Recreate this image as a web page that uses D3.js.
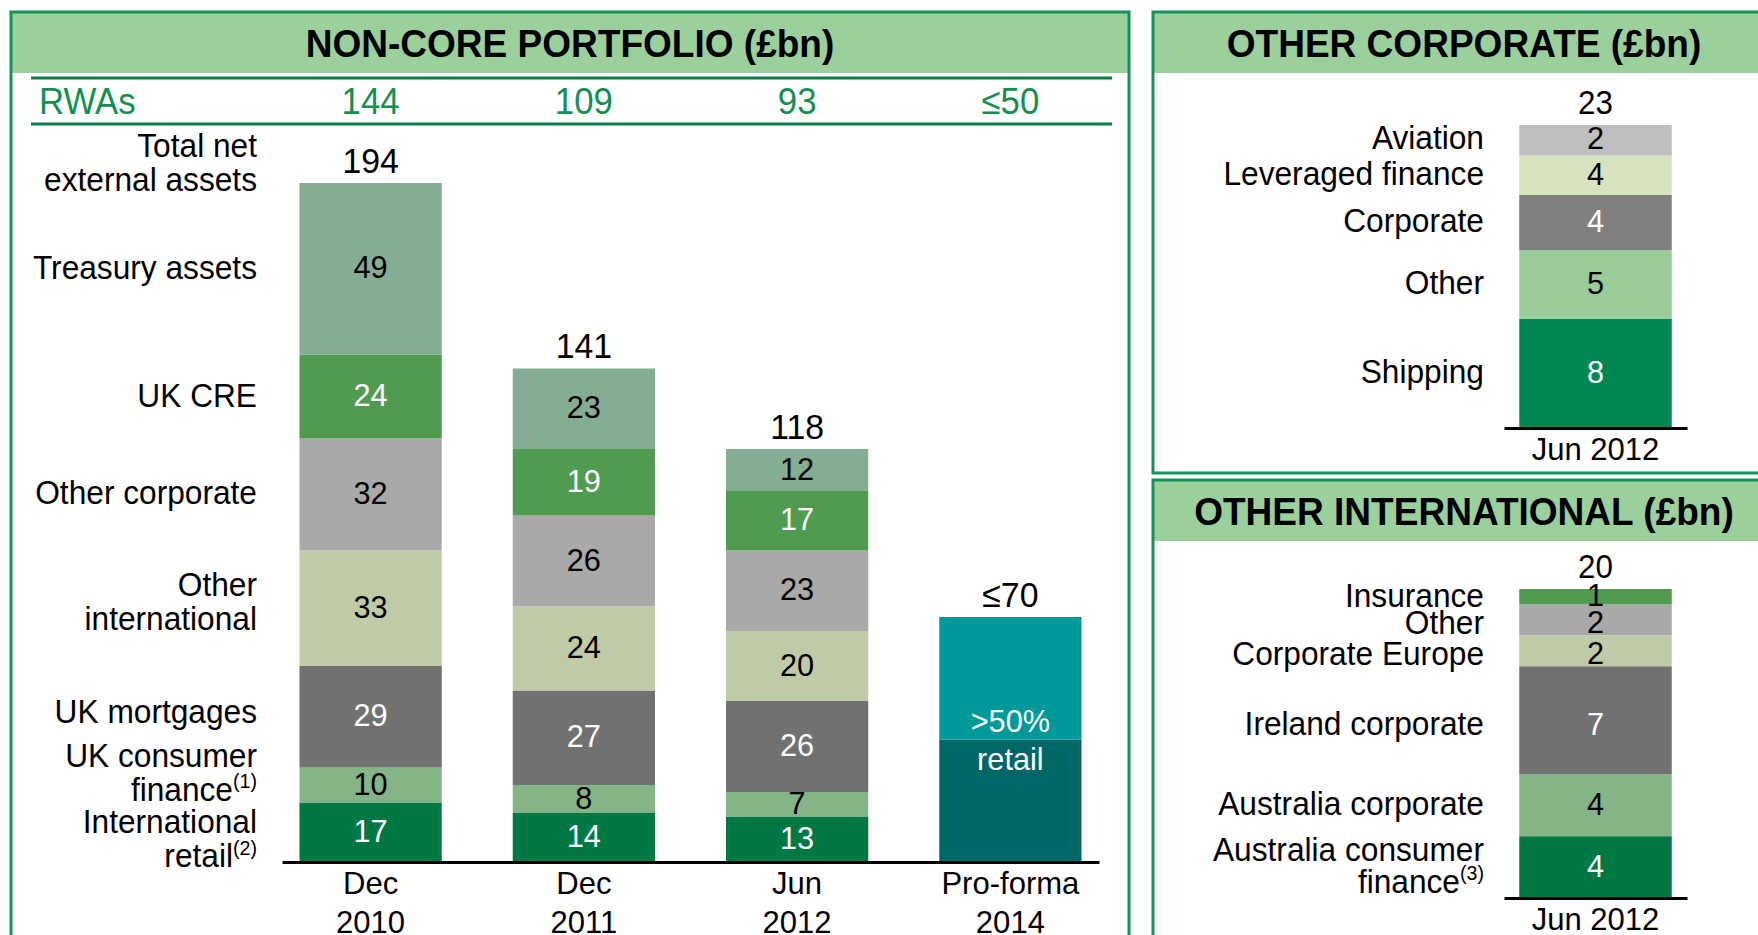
<!DOCTYPE html>
<html lang="en">
<head>
<meta charset="UTF-8">
<title>Non-core portfolio</title>
<script src="https://d3js.org/d3.v7.min.js"></script>
<style>
  body { margin: 0; background: #fff; }
  svg text { font-family: "Liberation Sans", Arial, sans-serif; }
</style>
</head>
<body>
<div id="chart"></div>
<script>
// ---- main chart: non-core portfolio (bottom segment first) ----
var categories = ["Dec 2010", "Dec 2011", "Jun 2012", "Pro-forma 2014"];
var categoryLines = [["Dec", "2010"], ["Dec", "2011"], ["Jun", "2012"], ["Pro-forma", "2014"]];
var rwas = ["144", "109", "93", "≤50"];
var totals = [194, 141, 118, 70];
var totalLabels = ["194", "141", "118", "≤70"];

var intlRetail  = [17, 14, 13];
var ukConsumer  = [10, 8, 7];
var ukMortgages = [29, 27, 26];
var otherIntl   = [33, 24, 20];
var otherCorp   = [32, 26, 23];
var ukCre       = [24, 19, 17];
var treasury    = [49, 23, 12];
var segmentNames = [["International", "retail^(2)"], ["UK consumer", "finance^(1)"], ["UK mortgages"],
                    ["Other", "international"], ["Other corporate"], ["UK CRE"], ["Treasury assets"]];

var proforma = [35, 35];            // retail share, rest
var proformaText = [">50%", "retail"];

// ---- other corporate, Jun 2012 ----
var corpNames  = ["Shipping", "Other", "Corporate", "Leveraged finance", "Aviation"];
var corpValues = [8.3, 5.2, 4.2, 3.0, 2.3];
var corpLabels = ["8", "5", "4", "4", "2"];
var corpTotal = 23;

// ---- other international, Jun 2012 ----
var intlNames  = [["Australia consumer", "finance^(3)"], ["Australia corporate"], ["Ireland corporate"],
                  ["Corporate Europe"], ["Other"], ["Insurance"]];
var intlValues = [4, 4, 7, 2, 2, 1];
var intlTotal = 20;

var W = 1758, H = 935;
var HEADER = "#9BCF9B", BORDER = "#17915A", RULE = "#0B7F46", RWA_TEXT = "#12904F";

var svg = d3.select("#chart").append("svg")
    .attr("width", W).attr("height", H).style("display", "block");
svg.append("rect").attr("width", W).attr("height", H).attr("fill", "#fff");

// the slide's type is a little condensed
function squeeze(x, sx) {
    return "translate(" + x + ",0) scale(" + sx + ",1) translate(" + (-x) + ",0)";
}

// writes a (possibly multi-line) label centred vertically on yc; "^" marks a superscript
function label(x, yc, lines, size, anchor, fill, lh, sx) {
    lh = lh || 34;
    var t = svg.append("text")
        .attr("text-anchor", anchor)
        .attr("font-size", size)
        .attr("fill", fill || "#000")
        .attr("transform", squeeze(x, sx || 1));
    lines.forEach(function (line, i) {
        var parts = line.split("^");
        var base = yc + (i - (lines.length - 1) / 2) * lh + size * 0.3;
        t.append("tspan").attr("x", x).attr("y", base).text(parts[0]);
        if (parts[1]) {
            t.append("tspan").attr("font-size", size * 0.62).attr("dy", -size * 0.38).text(parts[1]);
        }
    });
    return t;
}

function panel(x, y, w, h, title, titleX) {
    svg.append("rect").attr("x", x).attr("y", y).attr("width", w).attr("height", 61).attr("fill", HEADER);
    svg.append("rect").attr("x", x).attr("y", y).attr("width", w).attr("height", h)
        .attr("fill", "none").attr("stroke", BORDER).attr("stroke-width", 3);
    svg.append("text").attr("x", titleX).attr("y", y + 45)
        .attr("text-anchor", "middle").attr("font-size", 39).attr("font-weight", "bold")
        .attr("transform", squeeze(titleX, 0.95))
        .text(title);
}

panel(11, 12, 1118, 1000, "NON-CORE PORTFOLIO (£bn)", 570);
panel(1153, 12, 700, 461, "OTHER CORPORATE (£bn)", 1464);
panel(1153, 480, 700, 600, "OTHER INTERNATIONAL (£bn)", 1464);

// ---------------- main chart ----------------
var x = d3.scaleBand().domain(categories).range([282, 1099]).paddingInner(0.333).paddingOuter(0.082);
var y = d3.scaleLinear().domain([0, 194]).range([862, 183]);
var cx = function (cat) { return x(cat) + x.bandwidth() / 2; };

// RWAs row
[78, 124].forEach(function (ly) {
    svg.append("line").attr("x1", 31).attr("x2", 1112).attr("y1", ly).attr("y2", ly)
        .attr("stroke", RULE).attr("stroke-width", 3);
});
svg.append("text").attr("x", 39).attr("y", 114).attr("font-size", 37).attr("fill", RWA_TEXT)
    .attr("transform", squeeze(39, 0.94)).text("RWAs");
svg.selectAll(".rwa").data(rwas).enter().append("text")
    .attr("x", function (d, i) { return cx(categories[i]); })
    .attr("y", 114).attr("text-anchor", "middle").attr("font-size", 37).attr("fill", RWA_TEXT)
    .attr("transform", function (d, i) { return squeeze(cx(categories[i]), 0.94); })
    .text(function (d) { return d; });

var series = [intlRetail, ukConsumer, ukMortgages, otherIntl, otherCorp, ukCre, treasury];
var segFill = ["#007844", "#85B487", "#717171", "#BFCBA7", "#A9A9A9", "#519B51", "#84AD93"];
var segInk  = ["#fff", "#000", "#fff", "#000", "#000", "#fff", "#000"];
var nameNudge = [8, -11, -4, -5, 0, 1, 0];

categories.slice(0, 3).forEach(function (cat, j) {
    var base = 0;
    series.forEach(function (s, k) {
        var v = s[j];
        svg.append("rect")
            .attr("x", x(cat)).attr("width", x.bandwidth())
            .attr("y", y(base + v)).attr("height", y(base) - y(base + v))
            .attr("fill", segFill[k]);
        label(cx(cat), (y(base) + y(base + v)) / 2, [String(v)], 32, "middle", segInk[k], 34, 0.96);
        if (j === 0) {
            label(257, (y(base) + y(base + v)) / 2 + nameNudge[k], segmentNames[k], 33, "end", "#000", 34, 0.96);
        }
        base += v;
    });
});

// pro-forma bar
var pfCat = categories[3];
var pfFill = ["#006666", "#009999"];
var pfBase = 0;
proforma.forEach(function (v, k) {
    svg.append("rect")
        .attr("x", x(pfCat)).attr("width", x.bandwidth())
        .attr("y", y(pfBase + v)).attr("height", y(pfBase) - y(pfBase + v))
        .attr("fill", pfFill[k]);
    pfBase += v;
});
svg.append("text").attr("x", cx(pfCat)).attr("y", y(proforma[0]) - 7)
    .attr("text-anchor", "middle").attr("font-size", 32).attr("fill", "#fff")
    .attr("transform", squeeze(cx(pfCat), 0.96)).text(proformaText[0]);
svg.append("text").attr("x", cx(pfCat)).attr("y", y(proforma[0]) + 31)
    .attr("text-anchor", "middle").attr("font-size", 32).attr("fill", "#fff")
    .attr("transform", squeeze(cx(pfCat), 0.96)).text(proformaText[1]);

// totals
svg.selectAll(".total").data(totals).enter().append("text")
    .attr("x", function (d, i) { return cx(categories[i]); })
    .attr("y", function (d) { return y(d) - 10; })
    .attr("text-anchor", "middle").attr("font-size", 36)
    .attr("transform", function (d, i) { return squeeze(cx(categories[i]), 0.94); })
    .text(function (d, i) { return totalLabels[i]; });
label(257, y(totals[0]) - 19, ["Total net", "external assets"], 33, "end", "#000", 34, 0.96);

// axis
svg.append("g").attr("transform", "translate(0," + y(0) + ")")
    .call(d3.axisBottom(x).tickSize(0).tickSizeOuter(0).tickFormat(""))
    .call(function (g) { g.select(".domain").attr("stroke", "#000").attr("stroke-width", 3); });
categories.forEach(function (cat, i) {
    var t = svg.append("text").attr("text-anchor", "middle").attr("font-size", 32)
        .attr("transform", squeeze(cx(cat), 0.97));
    t.append("tspan").attr("x", cx(cat)).attr("y", y(0) + 32).text(categoryLines[i][0]);
    t.append("tspan").attr("x", cx(cat)).attr("y", y(0) + 71).text(categoryLines[i][1]);
});

// ---------------- side panels ----------------
function sideChart(values, texts, names, fills, inks, nudges, total, yTop, yBase) {
    var xs = d3.scaleBand().domain(["Jun 2012"]).range([1504, 1687]).paddingOuter(0.1);
    var ys = d3.scaleLinear().domain([0, total]).range([yBase, yTop]);
    var mid = xs("Jun 2012") + xs.bandwidth() / 2;
    var base = 0;
    values.forEach(function (v, k) {
        svg.append("rect")
            .attr("x", xs("Jun 2012")).attr("width", xs.bandwidth())
            .attr("y", ys(base + v)).attr("height", ys(base) - ys(base + v))
            .attr("fill", fills[k]);
        var yc = (ys(base) + ys(base + v)) / 2 + nudges[k];
        label(mid, yc, [texts[k]], 32, "middle", inks[k], 32, 0.96);
        label(1484, yc, names[k], 33, "end", "#000", 32, 0.96);
        base += v;
    });
    svg.append("text").attr("x", mid).attr("y", ys(total) - 11)
        .attr("text-anchor", "middle").attr("font-size", 33)
        .attr("transform", squeeze(mid, 0.95)).text(total);
    svg.append("g").attr("transform", "translate(0," + ys(0) + ")")
        .call(d3.axisBottom(xs).tickSize(0).tickSizeOuter(0).tickFormat(""))
        .call(function (g) { g.select(".domain").attr("stroke", "#000").attr("stroke-width", 3); });
    svg.append("text").attr("x", mid).attr("y", ys(0) + 32)
        .attr("text-anchor", "middle").attr("font-size", 32)
        .attr("transform", squeeze(mid, 0.97)).text("Jun 2012");
}

sideChart(corpValues, corpLabels, corpNames.map(function (n) { return [n]; }),
    ["#008751", "#99CC99", "#808080", "#D7E3BF", "#BFBFBF"],
    ["#fff", "#000", "#fff", "#000", "#000"], [0, 0, 0, 0, -1], corpTotal, 125, 428);

sideChart(intlValues, intlValues.map(String), intlNames,
    ["#007844", "#85B487", "#717171", "#BFCBA7", "#A9A9A9", "#519B51"],
    ["#fff", "#000", "#fff", "#000", "#000", "#000"], [0, 0, 5, 4, 4, 0], intlTotal, 589, 898);
</script>
</body>
</html>
